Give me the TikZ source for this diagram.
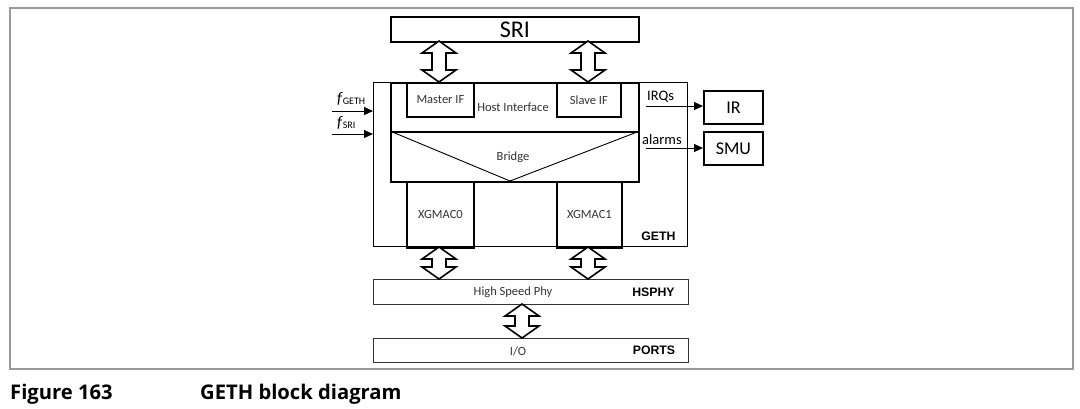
\documentclass[tikz,border=0pt]{standalone}
\usepackage{fontspec}
\setmainfont{Carlito}
\newfontfamily\capfont{Open Sans}
\newfontfamily\arialfont{Liberation Sans}
\usetikzlibrary{calc,arrows.meta}
\tikzset{
  thickbox/.style={draw, line width=1.8pt, minimum width=#1, inner sep=0pt, anchor=north west},
  thinbox/.style={draw, line width=0.9pt, anchor=north west, inner sep=0pt},
  phybox/.style={draw=black!80, line width=1.1pt, anchor=north west, inner sep=0pt},
  bidir/.style={draw, line width=1.6pt, fill=white, line join=miter},
  sig/.style={-{Triangle[length=9pt,width=8pt]}, line width=0.9pt},
  lbl/.style={inner sep=0pt, text=black!80, font=\fontsize{12.5}{14}\selectfont},
  boldlbl/.style={inner sep=0pt, font=\arialfont\bfseries\fontsize{12.3}{14}\selectfont},
  siglbl/.style={inner sep=0pt, anchor=south west, font=\fontsize{14.5}{16}\selectfont},
  biglbl/.style={inner sep=0pt, font=\fontsize{18}{20}\selectfont},
}
\newcommand\bidirarrow[2]{%
  \path[bidir] let \p1=#1, \p2=#2 in
    (\x1,\y1) -- (\x1+17pt,\y1-12pt) -- (\x1+7pt,\y1-12pt) -- (\x1+7pt,\y2+12pt)
    -- (\x1+17pt,\y2+12pt) -- (\x1,\y2) -- (\x1-17pt,\y2+12pt) -- (\x1-7pt,\y2+12pt)
    -- (\x1-7pt,\y1-12pt) -- (\x1-17pt,\y1-12pt) -- cycle;}
\begin{document}
\begin{tikzpicture}[x=1pt,y=-1pt]
\useasboundingbox (0,0) rectangle (1080,408);
% outer frame
\draw[draw=black!40, line width=1.8pt] (10,8) rectangle (1073,369);
% GETH
\node[thinbox, minimum width=314pt, minimum height=164pt] (geth) at (373,82) {};
\node[boldlbl] (gethlbl) at (658.5,236) {GETH};
% SRI
\node[thickbox=248pt, minimum height=25pt] (sri) at (390,16) {};
\node[inner sep=0pt, font=\fontsize{24}{26}\selectfont] (srilbl) at (sri.center) {SRI};
% Host interface
\node[thickbox=248pt, minimum height=49pt] (host) at (390,82) {};
\node[lbl] (hostlbl) at (513,107) {Host Interface};
\node[thickbox=67pt, minimum height=34pt] (master) at (406,82) {};
\node[lbl] at (master.center) {Master IF};
\node[thickbox=64pt, minimum height=34pt] (slave) at (556,82) {};
\node[lbl] at (slave.center) {Slave IF};
% Bridge
\node[thickbox=248pt, minimum height=50pt] (bridge) at (390,131) {};
\coordinate (apex) at (510,181);
\draw[line width=0.9pt] (bridge.north west) -- (apex) -- (bridge.north east);
\node[lbl] (bridgelbl) at (513,157) {Bridge};
% XGMACs
\node[thickbox=67pt, minimum height=66pt] (xg0) at (406,181) {};
\node[lbl] at (xg0.center) {XGMAC0};
\node[thickbox=65pt, minimum height=66pt] (xg1) at (556,181) {};
\node[lbl] at (xg1.center) {XGMAC1};
% HSPHY
\node[phybox, minimum width=315pt, minimum height=25pt] (hsphy) at (373,279) {};
\node[lbl] at (513,292) {High Speed Phy};
\node[boldlbl] at (653.5,292) {HSPHY};
% PORTS
\node[phybox, minimum width=315pt, minimum height=24pt] (ports) at (373,338) {};
\node[lbl] at (518,351) {I/O};
\node[boldlbl] at (654,350) {PORTS};
% IR / SMU
\node[thickbox=59pt, minimum height=33pt] (ir) at (703,90) {};
\node[biglbl] at (ir.center) {IR};
\node[thickbox=59pt, minimum height=33pt] (smu) at (703,131) {};
\node[biglbl] at (smu.center) {SMU};
% signals
\coordinate (irqs) at (646,106);
\coordinate (alarms) at (646,148);
\draw[sig] (irqs) -- (ir.west |- irqs);
\draw[sig] (alarms) -- (smu.west |- alarms);
\node[siglbl] at (647,103) {IRQs};
\node[siglbl] at (642,145) {alarms};
\coordinate (fg) at (332,111);
\coordinate (fs) at (332,134);
\draw[sig] (fg) -- (geth.west |- fg);
\draw[sig] (fs) -- (geth.west |- fs);
\node[inner sep=0pt, anchor=base west] at (337,103) {\fontsize{16}{18}\selectfont\itshape f\/\raisebox{-1.5pt}{\upshape\fontsize{10}{11}\selectfont GETH}};
\node[inner sep=0pt, anchor=base west] at (337,127) {\fontsize{16}{18}\selectfont\itshape f\/\raisebox{-1.5pt}{\upshape\fontsize{10}{11}\selectfont SRI}};
% bidirectional arrows
\bidirarrow{(439,41)}{(439,82)}
\bidirarrow{(588,41)}{(588,82)}
\bidirarrow{(439,247)}{(439,279)}
\bidirarrow{(588,247)}{(588,279)}
\bidirarrow{(522,304)}{(522,338)}
% caption
\node[inner sep=0pt, anchor=base west, font=\capfont\bfseries\fontsize{20.2}{22}\selectfont] (fig) at (10,399) {Figure 163};
\node[inner sep=0pt, anchor=base west, font=\capfont\bfseries\fontsize{20.2}{22}\selectfont] (cap) at (200,399) {GETH block diagram};
\end{tikzpicture}
\end{document}
